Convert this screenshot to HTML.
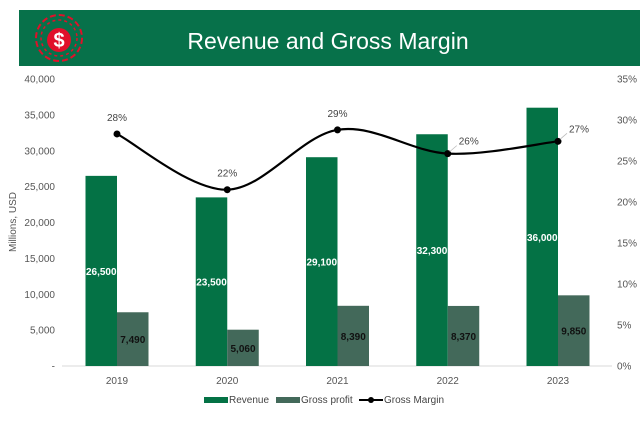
<!DOCTYPE html>
<html><head><meta charset="utf-8"><style>
body{margin:0;background:#fff;width:640px;height:417px;overflow:hidden;font-family:"Liberation Sans",sans-serif}
</style></head><body>
<svg width="640" height="417" xmlns="http://www.w3.org/2000/svg" font-family="Liberation Sans, sans-serif">
<rect x="19" y="10" width="621" height="56" fill="#07714A"/>
<g>
<circle cx="59" cy="38" r="23" fill="none" stroke="#e0102a" stroke-width="2" stroke-dasharray="6 3"/>
<circle cx="59" cy="38" r="18" fill="none" stroke="#e0102a" stroke-width="1.5" stroke-dasharray="3 3"/>
<circle cx="59" cy="40" r="12" fill="#e0102a"/>
<text x="59" y="47" text-anchor="middle" font-size="20" font-weight="bold" fill="#fff">$</text>
</g>
<text x="328" y="49" text-anchor="middle" font-size="23" fill="#fff">Revenue and Gross Margin</text>
<text transform="translate(16,222) rotate(-90)" text-anchor="middle" font-size="10" fill="#555">Millions, USD</text>
<g id="axes"></g>
<g id="marks"></g>
<g font-size="10" fill="#444">
<rect x="204" y="397" width="24" height="6" fill="#047245"/>
<text x="229" y="403">Revenue</text>
<rect x="276" y="397" width="24" height="6" fill="#43695A"/>
<text x="301" y="403">Gross profit</text>
<line x1="359" y1="400" x2="383" y2="400" stroke="#000" stroke-width="2"/>
<circle cx="371" cy="400" r="3" fill="#000"/>
<text x="384" y="403">Gross Margin</text>
</g>
</svg>
<script>
const categories=["2019","2020","2021","2022","2023"];
const revenue=[26500,23500,29100,32300,36000];
const grossProfit=[7490,5060,8390,8370,9850];
const grossMargin=[28.3,21.5,28.8,25.9,27.4];
const marginLabels=["28%","22%","29%","26%","27%"];
const leftTicks=[0,5000,10000,15000,20000,25000,30000,35000,40000];
const rightTicks=[0,5,10,15,20,25,30,35];
const NS="http://www.w3.org/2000/svg";
const y0=366,yTop=79;
const yL=v=>y0-v/40000*(y0-yTop);
const yR=v=>y0-v/35*(y0-yTop);
const xC=i=>117+i*110.25;
const axes=document.getElementById('axes'),marks=document.getElementById('marks');
function mk(tag,attrs,parent,txt){const e=document.createElementNS(NS,tag);for(const k in attrs)e.setAttribute(k,attrs[k]);if(txt!==undefined)e.textContent=txt;parent.appendChild(e);return e;}
const base=mk('line',{x1:62,x2:612,y1:y0,y2:y0,stroke:'#d9d9d9'},axes);


leftTicks.forEach(v=>{const t=mk('text',{x:55,y:yL(v)+3.5,'text-anchor':'end','font-size':10,fill:'#555'},axes,v===0?'-':v.toLocaleString('en-US'));

});
rightTicks.forEach(v=>{const t=mk('text',{x:617,y:yR(v)+3.5,'font-size':10,fill:'#555'},axes,v+'%');

});
categories.forEach((c,i)=>{
const t=mk('text',{x:xC(i),y:384,'text-anchor':'middle','font-size':10,fill:'#555'},axes,c);


const r=mk('rect',{x:xC(i)-31.5,y:yL(revenue[i]),width:31.5,height:y0-yL(revenue[i]),fill:'#047245'},marks);


const g=mk('rect',{x:xC(i),y:yL(grossProfit[i]),width:31.5,height:y0-yL(grossProfit[i]),fill:'#43695A'},marks);


const rl=mk('text',{x:xC(i)-15.75,y:(yL(revenue[i])+y0)/2+4,'text-anchor':'middle','font-size':10,'font-weight':'bold',fill:'#fff'},marks,revenue[i].toLocaleString('en-US'));


const gl=mk('text',{x:xC(i)+15.75,y:(yL(grossProfit[i])+y0)/2+4,'text-anchor':'middle','font-size':10,'font-weight':'bold',fill:'#111'},marks,grossProfit[i].toLocaleString('en-US'));


});
const pts=grossMargin.map((v,i)=>[xC(i),yR(v)]);
let d='M'+pts[0][0]+','+pts[0][1];
for(let i=0;i<pts.length-1;i++){const p0=pts[Math.max(0,i-1)],p1=pts[i],p2=pts[i+1],p3=pts[Math.min(pts.length-1,i+2)];const k=6;
d+=` C${p1[0]+(p2[0]-p0[0])/k},${p1[1]+(p2[1]-p0[1])/k} ${p2[0]-(p3[0]-p1[0])/k},${p2[1]-(p3[1]-p1[1])/k} ${p2[0]},${p2[1]}`;}
const line=mk('path',{d:d,fill:'none',stroke:'#000','stroke-width':2.2},marks);


pts.forEach((p,i)=>{
const c=mk('circle',{cx:p[0],cy:p[1],r:3.5,fill:'#000'},marks);


const shifted=i>=3;
const lx=shifted?p[0]+11:p[0], ly=shifted?p[1]-9:p[1]-13;
if(shifted){const ll=mk('line',{x1:p[0]+2,y1:p[1]-2,x2:p[0]+9,y2:p[1]-8,stroke:'#bbb','stroke-width':0.8},marks);

}
const t=mk('text',{x:shifted?lx:p[0],y:ly,'text-anchor':shifted?'start':'middle','font-size':10,fill:'#444'},marks,marginLabels[i]);


});
</script>
</body></html>
